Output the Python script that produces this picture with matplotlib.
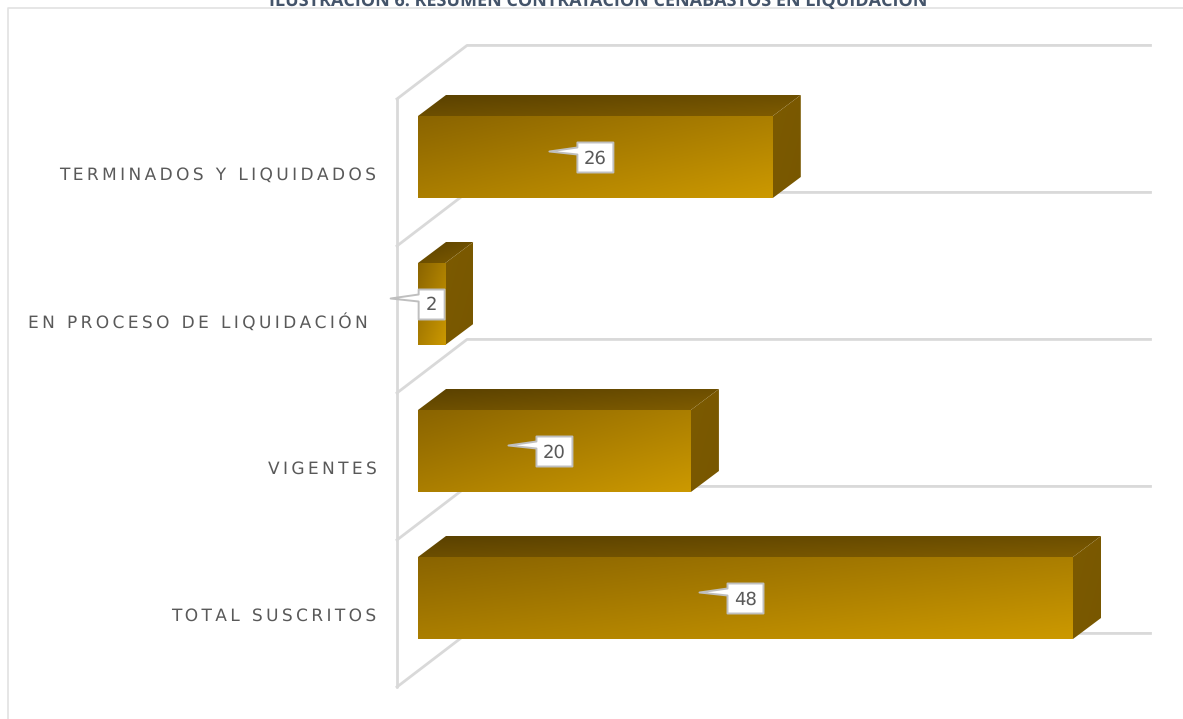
import numpy as np
import matplotlib
matplotlib.use("Agg")
import matplotlib.pyplot as plt
from matplotlib.colors import LinearSegmentedColormap
from matplotlib.patches import Polygon, Rectangle

plt.rcParams["text.hinting"] = "no_hinting"
plt.rcParams["text.hinting_factor"] = 1

categories = ["TOTAL SUSCRITOS", "VIGENTES", "EN PROCESO DE LIQUIDACIÓN", "TERMINADOS Y LIQUIDADOS"]
values = [48, 20, 2, 26]
title = "ILUSTRACIÓN 6. RESUMEN CONTRATACIÓN CENABASTOS EN LIQUIDACIÓN"

W, H = 1183, 719
X0, PX_PER_VALUE = 418.0, 655.0 / 48
Y0, PX_PER_CAT = 598.0, 147.0
BAR_H = 82 / PX_PER_CAT
DX, DY = 28 / PX_PER_VALUE, 21 / PX_PER_CAT
px = 1 / PX_PER_VALUE
py = 1 / PX_PER_CAT

fig = plt.figure(figsize=(W / 100, H / 100), dpi=100, facecolor="white")
ax = fig.add_axes([0, 0, 1, 1])
xlim = (-X0 * px, (W - X0) * px)
ylim = ((Y0 - H) * py, Y0 * py)
ax.axis("off")

GRID = "#d9d9d9"
# wall
wall_x, back_x, right_x = -21 * px, 49 * px, 732.5 * px
wall_low, wall_rise = -0.605, 53.5 * py
edges = [wall_low + k for k in range(len(categories) + 1)]
ax.plot([wall_x, wall_x], [edges[0], edges[-1]], color=GRID, lw=2, zorder=1, solid_capstyle="round")
for e in edges:
    ax.plot([wall_x, back_x, right_x], [e, e + wall_rise, e + wall_rise], color=GRID, lw=2, zorder=1,
            solid_joinstyle="round")

# outer chart frame
ax.plot([-410 * px, -410 * px, 765 * px], [(Y0 - H) * py, (Y0 - 8) * py, (Y0 - 8) * py],
        color="#e2e2e2", lw=1.2, zorder=1)

front_cmap = LinearSegmentedColormap.from_list("front", ["#8a6400", "#cc9900"])
top_cmap = LinearSegmentedColormap.from_list("top", ["#5a4100", "#7f5c00"])
side_cmap = LinearSegmentedColormap.from_list("side", ["#7c5a00", "#785700"])


def gradient(cmap, extent, clip, zorder):
    u, v = np.meshgrid(np.linspace(0, 1, 200), np.linspace(0, 1, 100))
    im = ax.imshow((u + v) / 2, cmap=cmap, extent=extent, aspect="auto", origin="upper",
                   vmin=0, vmax=1, zorder=zorder, interpolation="bilinear")
    im.set_clip_path(clip)


for i, (cat, val) in enumerate(zip(categories, values)):
    lo, hi = i - BAR_H / 2, i + BAR_H / 2

    top = Polygon([(0, hi), (DX, hi + DY), (val + DX, hi + DY), (val, hi)], closed=True,
                  fc="none", ec="none", transform=ax.transData)
    ax.add_patch(top)
    gradient(top_cmap, (0, val + DX, hi, hi + DY), top, 3)

    side = Polygon([(val, lo), (val + DX, lo + DY), (val + DX, hi + DY), (val, hi)], closed=True,
                   fc="none", ec="none", transform=ax.transData)
    ax.add_patch(side)
    gradient(side_cmap, (val, val + DX, lo, hi + DY), side, 3)

    front = Rectangle((0, lo), val, BAR_H, fc="none", ec="none", transform=ax.transData)
    ax.add_patch(front)
    gradient(front_cmap, (0, val, lo, hi), front, 4)

    # callout label
    cx, cy = val / 2, i - 0.5 * py
    half_w = (13 if val < 10 else 18) * px
    half_h = 15 * py
    left, right, bottom, upper = cx - half_w, cx + half_w, cy - half_h, cy + half_h
    tip = (left - 28 * px, upper - 9 * py)
    shape = [(left, upper), (right, upper), (right, bottom), (left, bottom),
             (left, upper - 12 * py), tip, (left, upper - 5 * py)]
    ax.add_patch(Polygon(shape, closed=True, fc="white", ec="#bfbfbf", lw=1.4, zorder=6,
                         joinstyle="round"))
    ax.text(cx, cy - 1 * py, str(val), ha="center", va="center", fontsize=13, color="#595959",
            family="DejaVu Sans", zorder=7)

    # spaced category label
    spaced = "\u200a\u200a".join(cat)
    lx = (-41.5 if cat != "EN PROCESO DE LIQUIDACIÓN" else -50.5) * px
    ax.text(lx, i - 18 * py, spaced, ha="right", va="center", fontsize=12, color="#595959",
            family="DejaVu Sans", zorder=5)

ax.text(180 * px, (Y0 - 0.5) * py, title, ha="center", va="center", fontsize=13.3, fontweight="bold",
        color="#44546a", family="Open Sans", zorder=8)

ax.set_xlim(xlim)
ax.set_ylim(ylim)
fig.savefig("out.png", dpi=100, facecolor="white")
